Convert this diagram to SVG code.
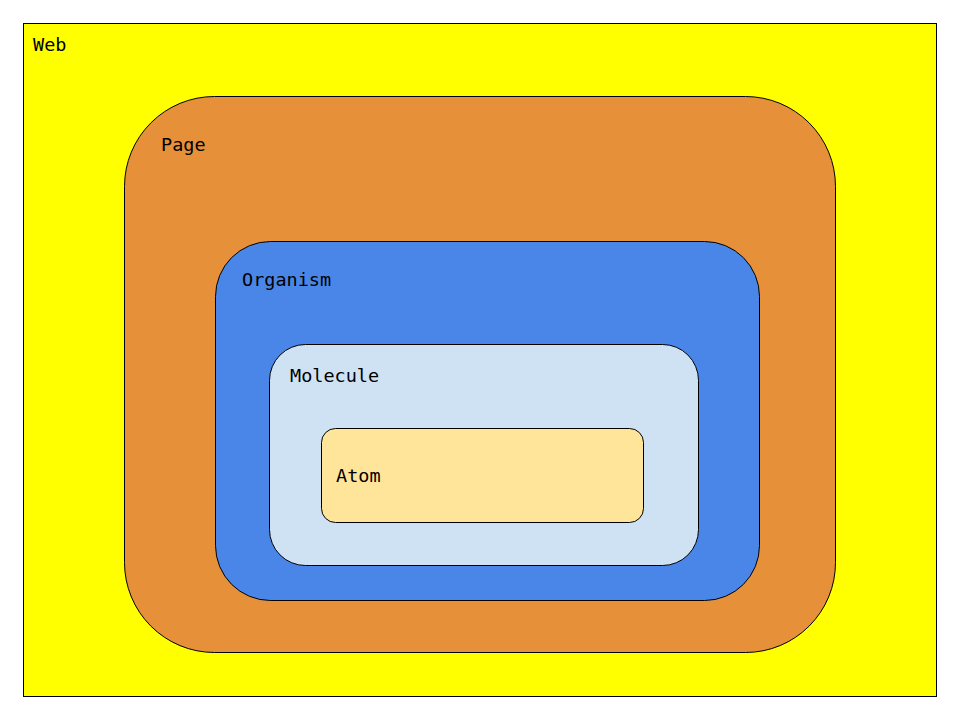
<svg xmlns="http://www.w3.org/2000/svg" width="960" height="720" viewBox="0 0 960 720">
<style>
.box{stroke:#000;stroke-width:1}
.lbl{font-family:"DejaVu Sans Mono","Liberation Mono",monospace;font-size:18.5px;fill:#000}
</style>
<rect width="960" height="720" fill="#fff"/>
<g id="web"><rect class="box" x="23.5" y="23.5" width="913" height="673" fill="#ffff00"/><text class="lbl" x="33" y="51">Web</text></g>
<g id="page"><rect class="box" x="124.5" y="96.5" width="711" height="556" rx="90" ry="90" fill="#e6913a"/><text class="lbl" x="161" y="151">Page</text></g>
<g id="organism"><rect class="box" x="215.5" y="241.5" width="544" height="359" rx="55" ry="55" fill="#4a86e8"/><text class="lbl" x="242" y="286">Organism</text></g>
<g id="molecule"><rect class="box" x="269.5" y="344.5" width="429" height="221" rx="36" ry="36" fill="#cfe2f3"/><text class="lbl" x="290" y="382">Molecule</text></g>
<g id="atom"><rect class="box" x="321.5" y="428.5" width="322" height="94" rx="14" ry="14" fill="#ffe599"/><text class="lbl" x="336" y="482">Atom</text></g>
<g id="connectors"/>
</svg>
